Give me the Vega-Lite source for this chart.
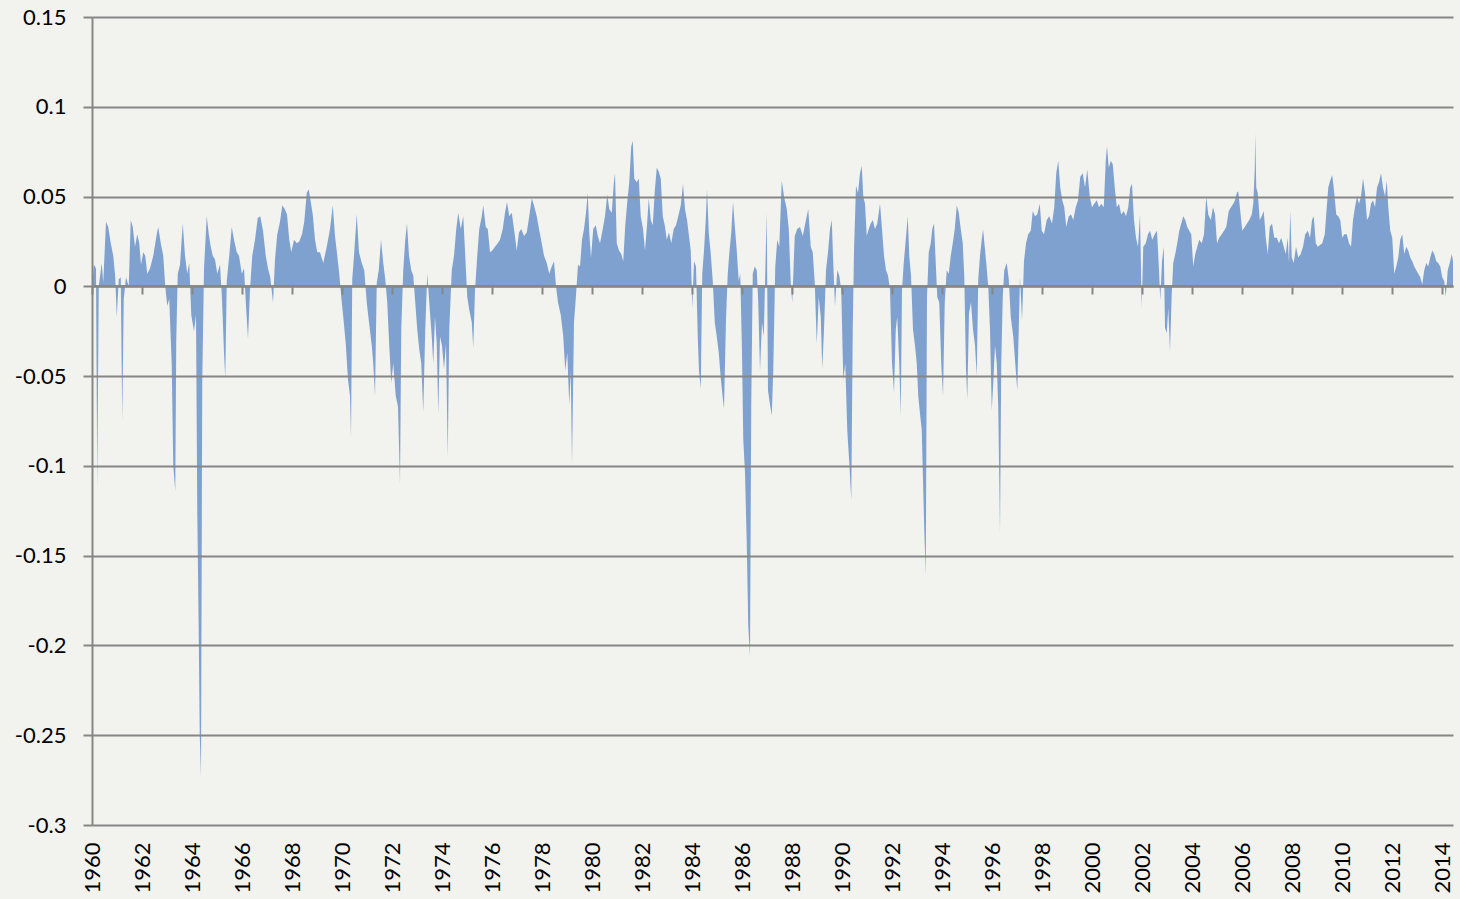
{
 "$schema": "https://vega.github.io/schema/vega-lite/v6.json",
 "width": 1361, "height": 808,
 "autosize": {"type": "none"},
 "padding": {"left": 92, "top": 17, "right": 7, "bottom": 74},
 "background": "#f2f2ee",
 "config": {"view": {"stroke": null}, "font": "Lato"},
 "data": {"values": [
{"t":1960.0,"v":0.0},{"t":1960.08,"v":0.012},{"t":1960.16,"v":0.010},{"t":1960.21,"v":-0.112},{"t":1960.27,"v":0.0},{"t":1960.39,"v":0.013},{"t":1960.45,"v":0.002},{"t":1960.56,"v":0.036},{"t":1960.65,"v":0.033},{"t":1960.75,"v":0.024},{"t":1960.85,"v":0.017},{"t":1960.93,"v":0.005},{"t":1960.99,"v":-0.017},{"t":1961.07,"v":0.004},{"t":1961.15,"v":0.005},{"t":1961.21,"v":-0.075},{"t":1961.27,"v":-0.007},{"t":1961.36,"v":0.005},{"t":1961.47,"v":0.0},{"t":1961.55,"v":0.037},{"t":1961.63,"v":0.033},{"t":1961.72,"v":0.022},{"t":1961.81,"v":0.029},{"t":1961.89,"v":0.024},{"t":1961.96,"v":0.012},
{"t":1962.05,"v":0.019},{"t":1962.13,"v":0.017},{"t":1962.21,"v":0.007},{"t":1962.32,"v":0.010},{"t":1962.45,"v":0.017},{"t":1962.59,"v":0.029},{"t":1962.65,"v":0.033},{"t":1962.75,"v":0.024},{"t":1962.85,"v":0.017},{"t":1962.93,"v":0.0},{"t":1963.01,"v":-0.011},{"t":1963.09,"v":-0.007},{"t":1963.19,"v":-0.044},{"t":1963.25,"v":-0.100},{"t":1963.33,"v":-0.114},{"t":1963.37,"v":-0.030},{"t":1963.43,"v":0.007},{"t":1963.52,"v":0.012},{"t":1963.63,"v":0.035},{"t":1963.72,"v":0.017},{"t":1963.81,"v":0.007},{"t":1963.89,"v":0.013},{"t":1963.97,"v":-0.016},
{"t":1964.08,"v":-0.025},{"t":1964.16,"v":-0.016},{"t":1964.21,"v":-0.124},{"t":1964.27,"v":-0.194},{"t":1964.31,"v":-0.250},{"t":1964.36,"v":-0.273},{"t":1964.41,"v":-0.053},{"t":1964.48,"v":0.010},{"t":1964.59,"v":0.039},{"t":1964.67,"v":0.029},{"t":1964.75,"v":0.022},{"t":1964.83,"v":0.017},{"t":1964.92,"v":0.015},{"t":1965.01,"v":0.007},{"t":1965.12,"v":0.012},{"t":1965.20,"v":-0.007},{"t":1965.28,"v":-0.037},{"t":1965.33,"v":-0.051},{"t":1965.39,"v":0.003},{"t":1965.49,"v":0.017},{"t":1965.59,"v":0.033},{"t":1965.68,"v":0.026},{"t":1965.79,"v":0.019},{"t":1965.88,"v":0.017},{"t":1965.99,"v":0.007},
{"t":1966.08,"v":0.010},{"t":1966.16,"v":-0.011},{"t":1966.24,"v":-0.029},{"t":1966.32,"v":-0.002},{"t":1966.41,"v":0.017},{"t":1966.52,"v":0.026},{"t":1966.63,"v":0.038},{"t":1966.73,"v":0.039},{"t":1966.84,"v":0.031},{"t":1966.95,"v":0.017},{"t":1967.04,"v":0.010},{"t":1967.13,"v":0.005},{"t":1967.24,"v":-0.009},{"t":1967.32,"v":0.015},{"t":1967.41,"v":0.029},{"t":1967.52,"v":0.036},{"t":1967.61,"v":0.045},{"t":1967.71,"v":0.043},{"t":1967.80,"v":0.040},{"t":1967.89,"v":0.026},{"t":1967.97,"v":0.019},
{"t":1968.08,"v":0.026},{"t":1968.19,"v":0.024},{"t":1968.29,"v":0.025},{"t":1968.40,"v":0.029},{"t":1968.49,"v":0.036},{"t":1968.59,"v":0.052},{"t":1968.67,"v":0.054},{"t":1968.75,"v":0.047},{"t":1968.83,"v":0.040},{"t":1968.92,"v":0.026},{"t":1969.01,"v":0.019},{"t":1969.12,"v":0.019},{"t":1969.25,"v":0.013},{"t":1969.39,"v":0.022},{"t":1969.52,"v":0.032},{"t":1969.63,"v":0.045},{"t":1969.72,"v":0.028},{"t":1969.81,"v":0.017},{"t":1969.89,"v":0.007},{"t":1969.97,"v":-0.006},
{"t":1970.05,"v":-0.017},{"t":1970.15,"v":-0.032},{"t":1970.24,"v":-0.052},{"t":1970.32,"v":-0.061},{"t":1970.36,"v":-0.084},{"t":1970.41,"v":0.004},{"t":1970.49,"v":0.019},{"t":1970.59,"v":0.040},{"t":1970.68,"v":0.019},{"t":1970.79,"v":0.013},{"t":1970.89,"v":0.009},{"t":1970.99,"v":-0.009},{"t":1971.08,"v":-0.020},{"t":1971.19,"v":-0.033},{"t":1971.25,"v":-0.043},{"t":1971.32,"v":-0.061},{"t":1971.39,"v":0.002},{"t":1971.47,"v":0.009},{"t":1971.56,"v":0.026},{"t":1971.65,"v":0.013},{"t":1971.73,"v":0.004},{"t":1971.81,"v":-0.009},{"t":1971.89,"v":-0.033},{"t":1971.97,"v":-0.054},
{"t":1972.05,"v":-0.043},{"t":1972.15,"v":-0.061},{"t":1972.24,"v":-0.067},{"t":1972.32,"v":-0.110},{"t":1972.37,"v":-0.024},{"t":1972.45,"v":0.009},{"t":1972.53,"v":0.026},{"t":1972.60,"v":0.035},{"t":1972.68,"v":0.017},{"t":1972.77,"v":0.009},{"t":1972.85,"v":0.006},{"t":1972.93,"v":-0.009},{"t":1973.01,"v":-0.024},{"t":1973.09,"v":-0.035},{"t":1973.17,"v":-0.043},{"t":1973.25,"v":-0.070},{"t":1973.33,"v":-0.024},{"t":1973.41,"v":0.007},{"t":1973.49,"v":-0.009},{"t":1973.59,"v":-0.028},{"t":1973.65,"v":-0.043},{"t":1973.72,"v":-0.017},{"t":1973.79,"v":-0.032},{"t":1973.85,"v":-0.071},{"t":1973.92,"v":-0.028},
{"t":1974.00,"v":-0.033},{"t":1974.08,"v":-0.046},{"t":1974.16,"v":-0.032},{"t":1974.23,"v":-0.095},{"t":1974.29,"v":-0.024},{"t":1974.39,"v":0.009},{"t":1974.48,"v":0.017},{"t":1974.57,"v":0.032},{"t":1974.65,"v":0.041},{"t":1974.75,"v":0.032},{"t":1974.85,"v":0.039},{"t":1974.93,"v":0.017},{"t":1975.01,"v":-0.006},{"t":1975.09,"v":-0.013},{"t":1975.19,"v":-0.020},{"t":1975.25,"v":-0.034},{"t":1975.32,"v":-0.002},{"t":1975.41,"v":0.017},{"t":1975.49,"v":0.032},{"t":1975.59,"v":0.039},{"t":1975.65,"v":0.045},{"t":1975.75,"v":0.033},{"t":1975.83,"v":0.032},{"t":1975.92,"v":0.019},
{"t":1976.01,"v":0.020},{"t":1976.12,"v":0.022},{"t":1976.23,"v":0.024},{"t":1976.32,"v":0.026},{"t":1976.43,"v":0.032},{"t":1976.52,"v":0.041},{"t":1976.60,"v":0.047},{"t":1976.69,"v":0.039},{"t":1976.79,"v":0.041},{"t":1976.88,"v":0.032},{"t":1976.99,"v":0.020},{"t":1977.08,"v":0.030},{"t":1977.17,"v":0.032},{"t":1977.28,"v":0.028},{"t":1977.39,"v":0.030},{"t":1977.49,"v":0.039},{"t":1977.59,"v":0.049},{"t":1977.68,"v":0.045},{"t":1977.79,"v":0.039},{"t":1977.88,"v":0.032},{"t":1977.99,"v":0.024},
{"t":1978.08,"v":0.017},{"t":1978.19,"v":0.013},{"t":1978.29,"v":0.007},{"t":1978.39,"v":0.011},{"t":1978.48,"v":0.014},{"t":1978.56,"v":0.0},{"t":1978.64,"v":-0.009},{"t":1978.75,"v":-0.016},{"t":1978.85,"v":-0.028},{"t":1978.93,"v":-0.047},{"t":1979.01,"v":-0.037},{"t":1979.09,"v":-0.066},{"t":1979.15,"v":-0.047},{"t":1979.20,"v":-0.099},{"t":1979.28,"v":-0.020},{"t":1979.36,"v":-0.005},{"t":1979.44,"v":0.012},{"t":1979.52,"v":0.011},{"t":1979.60,"v":0.026},{"t":1979.68,"v":0.032},{"t":1979.76,"v":0.041},{"t":1979.83,"v":0.052},{"t":1979.89,"v":0.030},{"t":1979.96,"v":0.016},
{"t":1980.05,"v":0.032},{"t":1980.15,"v":0.034},{"t":1980.23,"v":0.028},{"t":1980.32,"v":0.024},{"t":1980.43,"v":0.032},{"t":1980.52,"v":0.039},{"t":1980.61,"v":0.051},{"t":1980.69,"v":0.043},{"t":1980.79,"v":0.041},{"t":1980.87,"v":0.057},{"t":1980.92,"v":0.063},{"t":1980.99,"v":0.024},{"t":1981.08,"v":0.020},{"t":1981.17,"v":0.018},{"t":1981.25,"v":0.014},{"t":1981.33,"v":0.034},{"t":1981.41,"v":0.047},{"t":1981.49,"v":0.058},{"t":1981.57,"v":0.078},{"t":1981.63,"v":0.081},{"t":1981.69,"v":0.060},{"t":1981.79,"v":0.058},{"t":1981.87,"v":0.060},{"t":1981.95,"v":0.039},
{"t":1982.04,"v":0.032},{"t":1982.12,"v":0.020},{"t":1982.20,"v":0.034},{"t":1982.27,"v":0.049},{"t":1982.35,"v":0.037},{"t":1982.43,"v":0.034},{"t":1982.51,"v":0.053},{"t":1982.59,"v":0.066},{"t":1982.67,"v":0.064},{"t":1982.75,"v":0.060},{"t":1982.83,"v":0.039},{"t":1982.91,"v":0.034},{"t":1982.99,"v":0.026},{"t":1983.08,"v":0.030},{"t":1983.17,"v":0.024},{"t":1983.27,"v":0.032},{"t":1983.36,"v":0.034},{"t":1983.45,"v":0.039},{"t":1983.55,"v":0.045},{"t":1983.64,"v":0.057},{"t":1983.72,"v":0.043},{"t":1983.80,"v":0.037},{"t":1983.88,"v":0.028},{"t":1983.95,"v":0.020},
{"t":1984.01,"v":-0.012},{"t":1984.08,"v":0.014},{"t":1984.16,"v":0.011},{"t":1984.23,"v":-0.028},{"t":1984.28,"v":-0.047},{"t":1984.35,"v":-0.057},{"t":1984.41,"v":0.007},{"t":1984.48,"v":0.020},{"t":1984.55,"v":0.037},{"t":1984.60,"v":0.054},{"t":1984.67,"v":0.030},{"t":1984.75,"v":0.018},{"t":1984.83,"v":0.003},{"t":1984.91,"v":-0.020},{"t":1984.99,"v":-0.028},{"t":1985.07,"v":-0.037},{"t":1985.15,"v":-0.051},{"t":1985.23,"v":-0.062},{"t":1985.28,"v":-0.068},{"t":1985.36,"v":-0.018},{"t":1985.43,"v":0.007},{"t":1985.49,"v":0.018},{"t":1985.57,"v":0.030},{"t":1985.64,"v":0.047},{"t":1985.71,"v":0.034},{"t":1985.79,"v":0.020},{"t":1985.87,"v":0.003},{"t":1985.93,"v":0.007},
{"t":1986.00,"v":-0.037},{"t":1986.05,"v":-0.085},{"t":1986.12,"v":-0.104},{"t":1986.19,"v":-0.143},{"t":1986.25,"v":-0.189},{"t":1986.32,"v":-0.206},{"t":1986.37,"v":-0.066},{"t":1986.43,"v":0.007},{"t":1986.51,"v":0.011},{"t":1986.59,"v":0.009},{"t":1986.65,"v":-0.009},{"t":1986.72,"v":-0.047},{"t":1986.80,"v":-0.020},{"t":1986.87,"v":-0.028},{"t":1986.93,"v":0.007},{"t":1986.99,"v":0.041},{"t":1987.04,"v":-0.058},{"t":1987.12,"v":-0.066},{"t":1987.19,"v":-0.072},{"t":1987.25,"v":-0.047},{"t":1987.33,"v":0.011},{"t":1987.41,"v":0.026},{"t":1987.49,"v":0.022},{"t":1987.59,"v":0.059},{"t":1987.68,"v":0.050},{"t":1987.79,"v":0.043},{"t":1987.87,"v":0.032},{"t":1987.95,"v":0.002},
{"t":1988.01,"v":-0.009},{"t":1988.11,"v":0.028},{"t":1988.21,"v":0.032},{"t":1988.32,"v":0.033},{"t":1988.43,"v":0.028},{"t":1988.53,"v":0.035},{"t":1988.65,"v":0.043},{"t":1988.75,"v":0.022},{"t":1988.83,"v":0.019},{"t":1988.91,"v":0.002},{"t":1988.99,"v":-0.032},{"t":1989.07,"v":-0.006},{"t":1989.15,"v":-0.017},{"t":1989.21,"v":-0.046},{"t":1989.28,"v":-0.024},{"t":1989.36,"v":0.009},{"t":1989.44,"v":0.019},{"t":1989.52,"v":0.032},{"t":1989.59,"v":0.037},{"t":1989.65,"v":0.013},{"t":1989.72,"v":-0.011},{"t":1989.81,"v":0.009},{"t":1989.89,"v":0.006},{"t":1989.97,"v":-0.002},
{"t":1990.05,"v":-0.052},{"t":1990.13,"v":-0.043},{"t":1990.21,"v":-0.080},{"t":1990.29,"v":-0.098},{"t":1990.37,"v":-0.119},{"t":1990.43,"v":-0.024},{"t":1990.48,"v":0.020},{"t":1990.56,"v":0.056},{"t":1990.64,"v":0.052},{"t":1990.72,"v":0.063},{"t":1990.79,"v":0.067},{"t":1990.85,"v":0.050},{"t":1990.92,"v":0.046},{"t":1990.99,"v":0.028},{"t":1991.07,"v":0.032},{"t":1991.15,"v":0.035},{"t":1991.23,"v":0.037},{"t":1991.32,"v":0.032},{"t":1991.41,"v":0.035},{"t":1991.52,"v":0.046},{"t":1991.60,"v":0.032},{"t":1991.68,"v":0.017},{"t":1991.76,"v":0.009},{"t":1991.84,"v":0.006},{"t":1991.92,"v":-0.002},
{"t":1992.00,"v":-0.043},{"t":1992.08,"v":-0.059},{"t":1992.15,"v":-0.024},{"t":1992.21,"v":-0.017},{"t":1992.29,"v":-0.043},{"t":1992.35,"v":-0.072},{"t":1992.40,"v":-0.002},{"t":1992.47,"v":0.013},{"t":1992.55,"v":0.026},{"t":1992.63,"v":0.039},{"t":1992.69,"v":0.017},{"t":1992.76,"v":0.006},{"t":1992.84,"v":-0.024},{"t":1992.92,"v":-0.033},{"t":1992.99,"v":-0.043},{"t":1993.05,"v":-0.061},{"t":1993.12,"v":-0.071},{"t":1993.19,"v":-0.080},{"t":1993.24,"v":-0.108},{"t":1993.29,"v":-0.135},{"t":1993.35,"v":-0.161},{"t":1993.40,"v":-0.006},{"t":1993.47,"v":0.019},{"t":1993.55,"v":0.024},{"t":1993.61,"v":0.032},{"t":1993.68,"v":0.035},{"t":1993.75,"v":0.013},{"t":1993.81,"v":-0.006},{"t":1993.89,"v":-0.009},{"t":1993.97,"v":-0.043},
{"t":1994.04,"v":-0.061},{"t":1994.11,"v":-0.009},{"t":1994.19,"v":0.009},{"t":1994.27,"v":0.007},{"t":1994.35,"v":0.017},{"t":1994.43,"v":0.024},{"t":1994.51,"v":0.032},{"t":1994.59,"v":0.045},{"t":1994.67,"v":0.041},{"t":1994.75,"v":0.032},{"t":1994.83,"v":0.024},{"t":1994.89,"v":0.006},{"t":1994.96,"v":-0.046},{"t":1995.01,"v":-0.063},{"t":1995.08,"v":-0.015},{"t":1995.16,"v":-0.009},{"t":1995.24,"v":-0.024},{"t":1995.32,"v":-0.033},{"t":1995.39,"v":-0.050},{"t":1995.45,"v":0.004},{"t":1995.52,"v":0.017},{"t":1995.59,"v":0.026},{"t":1995.64,"v":0.032},{"t":1995.71,"v":0.022},{"t":1995.77,"v":0.013},{"t":1995.85,"v":0.0},{"t":1995.92,"v":-0.024},{"t":1995.99,"v":-0.069},
{"t":1996.05,"v":-0.054},{"t":1996.12,"v":-0.033},{"t":1996.19,"v":-0.043},{"t":1996.25,"v":-0.067},{"t":1996.32,"v":-0.137},{"t":1996.37,"v":-0.043},{"t":1996.43,"v":-0.006},{"t":1996.49,"v":0.009},{"t":1996.59,"v":0.013},{"t":1996.67,"v":0.004},{"t":1996.75,"v":-0.017},{"t":1996.85,"v":-0.028},{"t":1996.93,"v":-0.043},{"t":1997.01,"v":-0.058},{"t":1997.12,"v":0.005},{"t":1997.20,"v":-0.019},{"t":1997.28,"v":0.014},{"t":1997.36,"v":0.024},{"t":1997.45,"v":0.029},{"t":1997.55,"v":0.031},{"t":1997.63,"v":0.042},{"t":1997.72,"v":0.039},{"t":1997.81,"v":0.040},{"t":1997.91,"v":0.046},{"t":1997.99,"v":0.031},
{"t":1998.08,"v":0.029},{"t":1998.19,"v":0.037},{"t":1998.29,"v":0.039},{"t":1998.40,"v":0.035},{"t":1998.49,"v":0.044},{"t":1998.57,"v":0.063},{"t":1998.65,"v":0.070},{"t":1998.73,"v":0.055},{"t":1998.81,"v":0.048},{"t":1998.89,"v":0.044},{"t":1998.97,"v":0.033},{"t":1999.07,"v":0.039},{"t":1999.16,"v":0.040},{"t":1999.25,"v":0.037},{"t":1999.35,"v":0.044},{"t":1999.44,"v":0.048},{"t":1999.53,"v":0.061},{"t":1999.63,"v":0.063},{"t":1999.72,"v":0.055},{"t":1999.81,"v":0.065},{"t":1999.91,"v":0.050},
{"t":2000.00,"v":0.044},{"t":2000.09,"v":0.046},{"t":2000.19,"v":0.048},{"t":2000.28,"v":0.044},{"t":2000.37,"v":0.046},{"t":2000.47,"v":0.044},{"t":2000.55,"v":0.070},{"t":2000.60,"v":0.078},{"t":2000.67,"v":0.066},{"t":2000.75,"v":0.070},{"t":2000.83,"v":0.068},{"t":2000.91,"v":0.055},{"t":2000.99,"v":0.044},{"t":2001.08,"v":0.046},{"t":2001.17,"v":0.040},{"t":2001.27,"v":0.042},{"t":2001.36,"v":0.039},{"t":2001.45,"v":0.044},{"t":2001.53,"v":0.055},{"t":2001.60,"v":0.057},{"t":2001.68,"v":0.037},{"t":2001.76,"v":0.027},{"t":2001.84,"v":0.022},{"t":2001.92,"v":0.040},{"t":2001.99,"v":-0.012},
{"t":2002.05,"v":0.022},{"t":2002.15,"v":0.024},{"t":2002.24,"v":0.029},{"t":2002.32,"v":0.031},{"t":2002.41,"v":0.026},{"t":2002.51,"v":0.029},{"t":2002.60,"v":0.031},{"t":2002.68,"v":0.009},{"t":2002.73,"v":-0.008},{"t":2002.80,"v":0.014},{"t":2002.87,"v":0.022},{"t":2002.92,"v":-0.023},{"t":2002.99,"v":-0.026},{"t":2003.05,"v":-0.012},{"t":2003.12,"v":-0.036},{"t":2003.19,"v":-0.004},{"t":2003.25,"v":0.013},{"t":2003.33,"v":0.018},{"t":2003.41,"v":0.024},{"t":2003.49,"v":0.031},{"t":2003.57,"v":0.035},{"t":2003.65,"v":0.039},{"t":2003.73,"v":0.037},{"t":2003.81,"v":0.033},{"t":2003.89,"v":0.031},{"t":2003.97,"v":0.029},
{"t":2004.05,"v":0.011},{"t":2004.13,"v":0.018},{"t":2004.21,"v":0.022},{"t":2004.29,"v":0.026},{"t":2004.39,"v":0.024},{"t":2004.48,"v":0.029},{"t":2004.57,"v":0.050},{"t":2004.65,"v":0.040},{"t":2004.75,"v":0.037},{"t":2004.84,"v":0.044},{"t":2004.92,"v":0.040},{"t":2005.00,"v":0.024},{"t":2005.09,"v":0.027},{"t":2005.19,"v":0.029},{"t":2005.28,"v":0.031},{"t":2005.37,"v":0.033},{"t":2005.47,"v":0.042},{"t":2005.56,"v":0.044},{"t":2005.65,"v":0.046},{"t":2005.72,"v":0.048},{"t":2005.79,"v":0.052},{"t":2005.85,"v":0.053},{"t":2005.93,"v":0.042},
{"t":2006.01,"v":0.031},{"t":2006.11,"v":0.033},{"t":2006.20,"v":0.035},{"t":2006.29,"v":0.037},{"t":2006.39,"v":0.040},{"t":2006.45,"v":0.046},{"t":2006.51,"v":0.065},{"t":2006.53,"v":0.085},{"t":2006.57,"v":0.055},{"t":2006.63,"v":0.052},{"t":2006.71,"v":0.037},{"t":2006.79,"v":0.039},{"t":2006.87,"v":0.042},{"t":2006.95,"v":0.027},{"t":2007.03,"v":0.018},{"t":2007.11,"v":0.033},{"t":2007.20,"v":0.035},{"t":2007.29,"v":0.027},{"t":2007.39,"v":0.027},{"t":2007.48,"v":0.024},{"t":2007.57,"v":0.027},{"t":2007.67,"v":0.022},{"t":2007.75,"v":0.018},{"t":2007.83,"v":0.027},{"t":2007.88,"v":0.013},{"t":2007.93,"v":0.042},{"t":2007.99,"v":0.016},
{"t":2008.07,"v":0.013},{"t":2008.16,"v":0.022},{"t":2008.25,"v":0.016},{"t":2008.35,"v":0.018},{"t":2008.44,"v":0.022},{"t":2008.53,"v":0.029},{"t":2008.63,"v":0.031},{"t":2008.72,"v":0.027},{"t":2008.80,"v":0.037},{"t":2008.87,"v":0.039},{"t":2008.95,"v":0.024},{"t":2009.03,"v":0.022},{"t":2009.12,"v":0.023},{"t":2009.21,"v":0.024},{"t":2009.31,"v":0.029},{"t":2009.39,"v":0.044},{"t":2009.45,"v":0.055},{"t":2009.53,"v":0.059},{"t":2009.61,"v":0.062},{"t":2009.69,"v":0.052},{"t":2009.77,"v":0.040},{"t":2009.85,"v":0.039},{"t":2009.93,"v":0.037},
{"t":2010.01,"v":0.027},{"t":2010.09,"v":0.029},{"t":2010.19,"v":0.029},{"t":2010.28,"v":0.024},{"t":2010.36,"v":0.022},{"t":2010.44,"v":0.037},{"t":2010.52,"v":0.044},{"t":2010.60,"v":0.050},{"t":2010.68,"v":0.046},{"t":2010.76,"v":0.050},{"t":2010.84,"v":0.060},{"t":2010.92,"v":0.052},{"t":2011.00,"v":0.037},{"t":2011.08,"v":0.039},{"t":2011.16,"v":0.046},{"t":2011.24,"v":0.048},{"t":2011.32,"v":0.044},{"t":2011.40,"v":0.055},{"t":2011.48,"v":0.058},{"t":2011.56,"v":0.063},{"t":2011.64,"v":0.055},{"t":2011.72,"v":0.050},{"t":2011.79,"v":0.059},{"t":2011.85,"v":0.044},{"t":2011.93,"v":0.031},
{"t":2012.01,"v":0.027},{"t":2012.09,"v":0.007},{"t":2012.17,"v":0.011},{"t":2012.25,"v":0.016},{"t":2012.33,"v":0.026},{"t":2012.41,"v":0.029},{"t":2012.49,"v":0.018},{"t":2012.57,"v":0.022},{"t":2012.65,"v":0.020},{"t":2012.73,"v":0.016},{"t":2012.81,"v":0.014},{"t":2012.89,"v":0.011},{"t":2012.97,"v":0.009},{"t":2013.05,"v":0.007},{"t":2013.13,"v":0.005},{"t":2013.21,"v":0.001},{"t":2013.29,"v":0.009},{"t":2013.37,"v":0.013},{"t":2013.45,"v":0.011},{"t":2013.53,"v":0.016},{"t":2013.61,"v":0.020},{"t":2013.69,"v":0.018},{"t":2013.77,"v":0.014},{"t":2013.85,"v":0.013},{"t":2013.93,"v":0.011},
{"t":2014.01,"v":0.005},{"t":2014.09,"v":0.003},{"t":2014.15,"v":-0.006},{"t":2014.23,"v":0.009},{"t":2014.31,"v":0.013},{"t":2014.39,"v":0.018},{"t":2014.44,"v":0.014}
 ]},
 "layer": [
  {
   "mark": {"type": "area", "color": "#7fa1cf", "opacity": 1},
   "encoding": {
    "x": {"field": "t", "type": "quantitative",
     "scale": {"domain": [1960, 2014.44], "nice": false, "zero": false},
     "axis": {"orient": "bottom", "values": [1960,1962,1964,1966,1968,1970,1972,1974,1976,1978,1980,1982,1984,1986,1988,1990,1992,1994,1996,1998,2000,2002,2004,2006,2008,2010,2012,2014],
      "format": "d", "labelAngle": -90, "ticks": false, "domain": false, "grid": false,
      "labelPadding": 17, "labelFontSize": 22, "labelFont": "Lato", "labelColor": "#000000",
      "labelFlush": false, "labelOverlap": false, "title": null}},
    "y": {"field": "v", "type": "quantitative",
     "scale": {"domain": [-0.3, 0.15], "nice": false, "zero": false},
     "axis": {"values": [-0.3,-0.25,-0.2,-0.15,-0.1,-0.05,0,0.05,0.1,0.15],
      "labelExpr": "'' + datum.value", "grid": true, "gridColor": "#868686", "gridWidth": 2,
      "domainColor": "#868686", "domainWidth": 2, "tickColor": "#868686", "tickWidth": 2, "tickSize": 9,
      "labelPadding": 17, "labelFontSize": 22, "labelFont": "Lato", "labelColor": "#000000",
      "labelFlush": false, "labelOverlap": false, "title": null, "zindex": 1}},
    "y2": {"datum": 0}
   }
  },
  {
   "mark": {"type": "rule", "color": "#868686", "strokeWidth": 2},
   "encoding": {
    "x": {"aggregate": "min", "field": "t", "type": "quantitative",
     "axis": {"orient": "bottom", "offset": -539, "values": [1960,1962,1964,1966,1968,1970,1972,1974,1976,1978,1980,1982,1984,1986,1988,1990,1992,1994,1996,1998,2000,2002,2004,2006,2008,2010,2012,2014],
      "labels": false, "ticks": true, "tickSize": 8, "tickWidth": 2, "tickColor": "#868686",
      "domain": true, "domainColor": "#868686", "domainWidth": 2, "grid": false, "title": null, "zindex": 1}},
    "x2": {"aggregate": "max", "field": "t"},
    "y": {"datum": 0}
   }
  }
 ],
 "resolve": {"axis": {"x": "independent"}}
}
